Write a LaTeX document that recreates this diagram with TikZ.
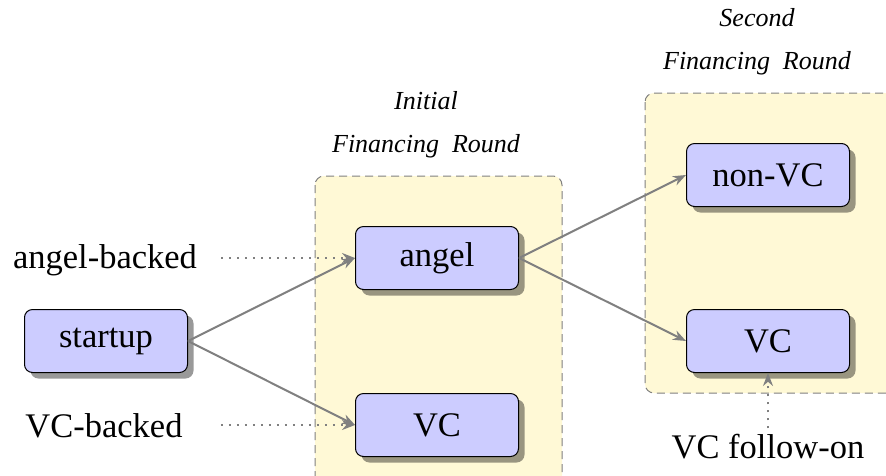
\documentclass[tikz,border=0pt]{standalone}
\usepackage{fontspec}
\setmainfont{LiberationSerif}[Extension=.ttf, UprightFont=*-Regular, ItalicFont=*-Italic, BoldFont=*-Bold]
\usetikzlibrary{shadows,arrows.meta}
\definecolor{boxblue}{RGB}{204,204,255}
\definecolor{roundfill}{RGB}{255,249,214}
\definecolor{linegray}{RGB}{128,128,128}
\tikzset{
  stagebox/.style={draw=black, line width=1pt, fill=boxblue, rounded corners=8pt,
    minimum width=163pt, minimum height=63pt, inner sep=0pt,
    font=\fontsize{34.5}{40}\selectfont,
    drop shadow={shadow xshift=6pt, shadow yshift=-6pt, fill=black, opacity=0.4}},
  sidelabel/.style={inner sep=0pt, font=\fontsize{34.5}{40}\selectfont},
  roundtitle/.style={inner sep=0pt, align=center, font=\fontsize{26}{43}\selectfont\itshape},
  roundarea/.style={draw=linegray, line width=1pt, dash pattern=on 8pt off 5pt, fill=roundfill, rounded corners=9pt},
  flow/.style={draw=linegray, line width=2pt, -{Stealth[length=13pt,width=10pt]}},
  hint/.style={draw=linegray, line width=2pt, dash pattern=on 2pt off 6pt, -{Stealth[length=13pt,width=10pt]}}
}
\begin{document}
\begin{tikzpicture}[x=1pt,y=-1pt]
\useasboundingbox (0,0) rectangle (886,475);
\clip (0,0) rectangle (886,475);
\fill[white] (0,0) rectangle (886,475);
% containers
\draw[roundarea] (315,176) rectangle (562,495);
\draw[roundarea] (645,93) rectangle (910,393);
% titles
\node[roundtitle] (t1) at (426,125) {Initial\\Financing\enspace Round};
\node[roundtitle] (t2) at (757,42) {Second\\Financing\enspace Round};
% boxes
\node[stagebox] (startup) at (106,341) {startup};
\node[stagebox] (angel) at (437,258) {angel};
\node[stagebox] (vc1) at (437,425) {VC};
\node[stagebox] (nonvc) at (768,175) {non-VC};
\node[stagebox] (vc2) at (768,341) {VC};
% side labels
\node[sidelabel] (ab) at (105,260) {angel-backed};
\node[sidelabel] (vb) at (104,426) {VC-backed};
\node[sidelabel] (vf) at (768,447) {VC follow-on};
% flows
\draw[flow] (startup.east) -- (angel.west);
\draw[flow] (startup.east) -- (vc1.west);
\draw[flow] (angel.east) -- (nonvc.west);
\draw[flow] (angel.east) -- (vc2.west);
% hints
\draw[hint, shorten <=24pt] (ab.east |- angel.west) -- (angel.west);
\draw[hint, shorten <=38pt] (vb.east |- vc1.west) -- (vc1.west);
\draw[hint, shorten <=6pt] (vf.north) -- (vc2.south);
\end{tikzpicture}
\end{document}
